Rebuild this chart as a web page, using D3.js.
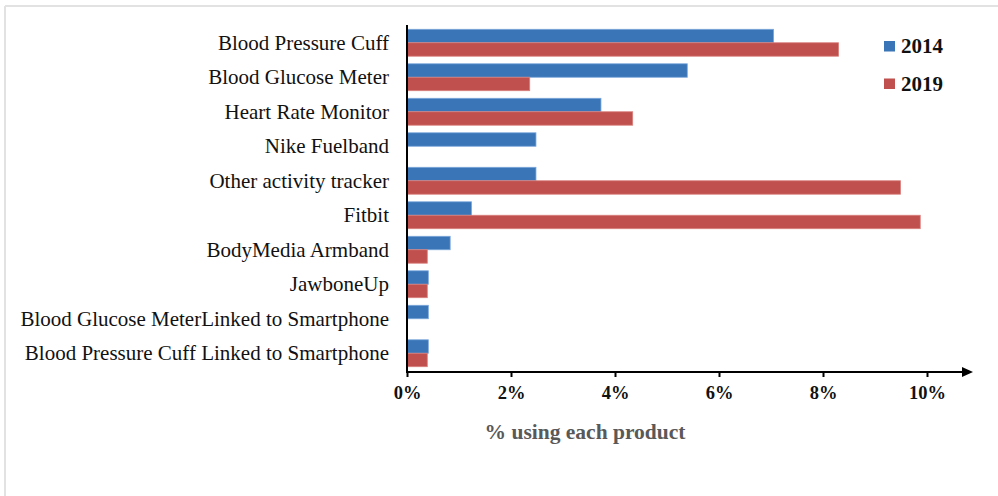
<!DOCTYPE html>
<html><head><meta charset="utf-8">
<script src="https://cdn.jsdelivr.net/npm/d3@7"></script>
<style>body{margin:0;background:#fff}svg{display:block}</style>
</head><body>
<script>
const categories = ["Blood Pressure Cuff","Blood Glucose Meter","Heart Rate Monitor","Nike Fuelband","Other activity tracker","Fitbit","BodyMedia Armband","JawboneUp","Blood Glucose MeterLinked to Smartphone","Blood Pressure Cuff Linked to Smartphone"];
const values2014 = [7.05, 5.39, 3.73, 2.48, 2.48, 1.24, 0.83, 0.41, 0.41, 0.41];
const values2019 = [8.30, 2.36, 4.34, 0, 9.49, 9.87, 0.39, 0.39, 0, 0.39];
const seriesNames = ["2014","2019"];
const xTicks = [0,2,4,6,8,10];

const W=998,H=496;
const svg=d3.select("body").append("svg").attr("width",W).attr("height",H);
// frame
svg.append("line").attr("x1",5).attr("x2",W).attr("y1",6).attr("y2",6).attr("stroke","#e2e2e2").attr("stroke-width",2);
svg.append("line").attr("x1",5).attr("x2",5).attr("y1",6).attr("y2",H).attr("stroke","#e2e2e2").attr("stroke-width",2);

const x=d3.scaleLinear().domain([0,10]).range([407,927]);
const y=d3.scaleBand().domain(categories).range([25.5,370.5]).paddingInner(0.22).paddingOuter(0.11);
const sub=d3.scaleBand().domain(seriesNames).range([0,y.bandwidth()]);
const fills={"2014":"#3a75b8","2019":"#c0504d"};
const strokes={"2014":"#7aa6da","2019":"#d9807d"};

const data=[];
categories.forEach((c,i)=>{data.push({c,s:"2014",v:values2014[i]});data.push({c,s:"2019",v:values2019[i]});});
svg.append("g").selectAll("rect").data(data.filter(d=>d.v>0)).join("rect")
 .attr("x",x(0)+0.5).attr("y",d=>y(d.c)+sub(d.s))
 .attr("width",d=>x(d.v)-x(0)-0.5).attr("height",sub.bandwidth())
 .attr("fill",d=>fills[d.s]).attr("stroke",d=>strokes[d.s]).attr("stroke-width",0.8);

// category labels
svg.append("g").selectAll("text").data(categories).join("text")
 .attr("x",389).attr("y",d=>y(d)+y.bandwidth()/2).attr("dy","0.33em")
 .attr("text-anchor","end").attr("font-family","Liberation Serif").attr("font-size",21).attr("fill","#111")
 .text(d=>d);

// y axis line
svg.append("line").attr("x1",407).attr("x2",407).attr("y1",25).attr("y2",372).attr("stroke","#000").attr("stroke-width",2);
// x axis
const xAxis=d3.axisBottom(x).tickValues(xTicks).tickFormat(d=>d+"%").tickSize(5).tickPadding(9);
const gx=svg.append("g").attr("transform","translate(0,372)").call(xAxis);
gx.select(".domain").remove();
gx.selectAll(".tick line").attr("stroke","#000").attr("stroke-width",2);
gx.selectAll(".tick text").attr("font-family","Liberation Serif").attr("font-size",18.5).attr("font-weight","bold").attr("fill","#111");
svg.append("line").attr("x1",406).attr("x2",968).attr("y1",372).attr("y2",372).attr("stroke","#000").attr("stroke-width",2);
svg.append("path").attr("d","M962,367 L973,372 L962,377 Z").attr("fill","#000");

svg.append("text").attr("x",585).attr("y",439).attr("text-anchor","middle")
 .attr("font-family","Liberation Serif").attr("font-size",21.5).attr("font-weight","bold").attr("fill","#595959")
 .text("% using each product");

// legend
const lg=svg.append("g").selectAll("g").data(seriesNames).join("g")
 .attr("transform",(d,i)=>`translate(884,${46+i*37.5})`);
lg.append("rect").attr("y",-5).attr("width",11).attr("height",10.5).attr("fill",d=>fills[d]);
lg.append("text").attr("x",17).attr("y",0).attr("dy","0.35em").attr("font-family","Liberation Serif")
 .attr("font-size",21).attr("font-weight","bold").attr("fill","#111").text(d=>d);
</script>
</body></html>
